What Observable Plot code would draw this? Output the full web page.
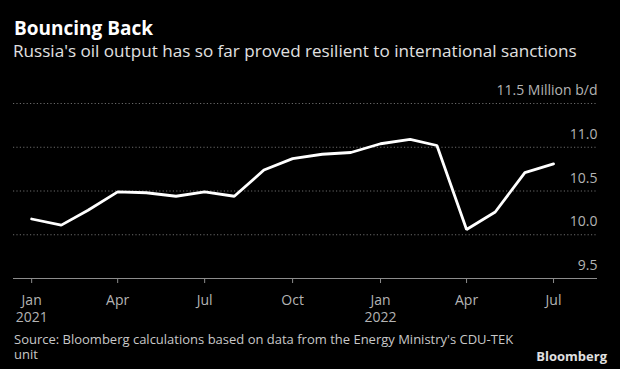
<!DOCTYPE html>
<html>
<head>
<meta charset="utf-8">
<script src="https://cdn.jsdelivr.net/npm/d3@7"></script>
<script src="https://cdn.jsdelivr.net/npm/@observablehq/plot@0.6"></script>
<style>
  html, body { margin: 0; padding: 0; background: #000; }
  body { width: 620px; height: 369px; overflow: hidden; position: relative; font-family: "Open Sans", sans-serif; }
  .t { position: absolute; white-space: nowrap; }
  #title { left: 14px; top: 19px; font-size: 19px; line-height: 19px; font-weight: 700; color: #fff; }
  #subtitle { left: 13px; top: 42px; font-size: 17.1px; line-height: 17px; color: #e0e0e0; }
  #chart { position: absolute; left: 0; top: 75px; }
  #source { position: absolute; left: 14px; top: 332px; width: 500px; font-size: 13px; line-height: 15px; color: #c8c8c8; }
  #logo { right: 13px; top: 349px; font-size: 13px; line-height: 15px; font-weight: 700; color: #e0e0e0; }
</style>
</head>
<body>
<div id="title" class="t">Bouncing Back</div>
<div id="subtitle" class="t">Russia's oil output has so far proved resilient to international sanctions</div>
<div id="chart"></div>
<div id="source">Source: Bloomberg calculations based on data from the Energy Ministry's CDU-TEK unit</div>
<div id="logo" class="t">Bloomberg</div>
<script>
// Monthly Russian oil output, million barrels per day
const months = ["2021-01","2021-02","2021-03","2021-04","2021-05","2021-06","2021-07","2021-08","2021-09","2021-10","2021-11","2021-12","2022-01","2022-02","2022-03","2022-04","2022-05","2022-06","2022-07"];
const output = [10.18,10.11,10.28,10.49,10.48,10.44,10.49,10.44,10.74,10.87,10.92,10.94,11.04,11.09,11.02,10.06,10.26,10.71,10.81];

// Axis ticks
const xTickDates = ["2021-01","2021-04","2021-07","2021-10","2022-01","2022-04","2022-07"];
const xTickLabels = ["Jan\n2021","Apr","Jul","Oct","Jan\n2022","Apr","Jul"];
const yTicks = [9.5, 10.0, 10.5, 11.0, 11.5];
const yTickLabels = ["9.5","10.0","10.5","11.0","11.5 Million b/d"];
const xDomain = ["2020-12-13","2022-08-16"];

const parse = d3.utcParse("%Y-%m");
const data = months.map((m, i) => ({date: parse(m), value: output[i]}));
const tickDates = xTickDates.map(parse);
const yLabelData = yTicks.map((v, i) => ({v, label: yTickLabels[i]}));

const chart = Plot.plot({
  width: 620,
  height: 258,
  marginLeft: 13,
  marginRight: 23,
  marginTop: 28,
  marginBottom: 55,
  style: {background: "transparent", color: "#b4b4b4", fontFamily: "Open Sans, sans-serif", fontSize: "14px", overflow: "visible"},
  x: {type: "utc", domain: xDomain.map(d => d3.utcParse("%Y-%m-%d")(d))},
  y: {domain: [9.5, 11.5], axis: null},
  marks: [
    Plot.ruleY(yTicks.slice(1), {stroke: "#6a6a6a", strokeWidth: 1, strokeDasharray: "1.2,2.2"}),
    Plot.ruleY([yTicks[0]], {stroke: "#8c8c8c", strokeWidth: 1}),
    Plot.axisX({
      ticks: tickDates,
      tickFormat: d => xTickLabels[tickDates.findIndex(t => +t === +d)],
      tickSize: 5,
      tickPadding: 9,
      fontSize: 14,
      lineHeight: 1.22,
      stroke: "#8c8c8c",
      fill: "#b4b4b4"
    }),
    Plot.text(yLabelData, {y: "v", text: "label", frameAnchor: "right", textAnchor: "end", lineAnchor: "bottom", dy: -8.5, fill: "#b4b4b4", fontSize: 14}),
    Plot.line(data, {x: "date", y: "value", stroke: "#fff", strokeWidth: 2.8, strokeLinejoin: "miter"})
  ]
});
document.getElementById("chart").appendChild(chart);
</script>
</body>
</html>
